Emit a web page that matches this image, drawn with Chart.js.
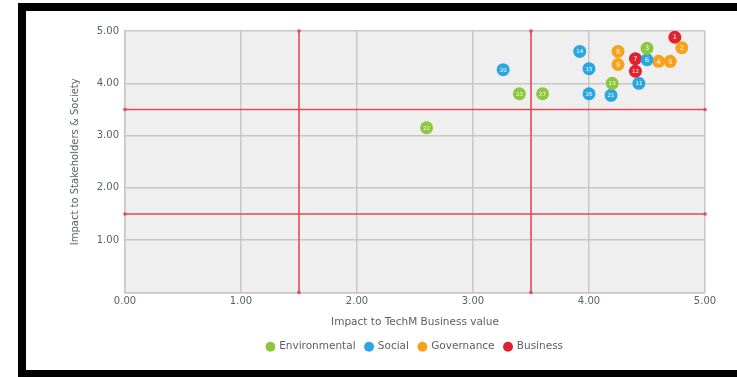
<!DOCTYPE html>
<html>
<head>
<meta charset="utf-8">
<script src="https://cdn.jsdelivr.net/npm/chart.js@4/dist/chart.umd.min.js"></script>
<style>
  html, body { margin: 0; padding: 0; background: #fff; width: 737px; height: 377px; overflow: hidden; }
  #frame { position: absolute; left: 18px; top: 3px; width: 800px; height: 375px; box-sizing: border-box; border: 8px solid #000; }
  #wrap { position: absolute; left: 0; top: 0; width: 737px; height: 377px; }
</style>
</head>
<body>
<div id="frame"></div>
<div id="wrap"><canvas id="c"></canvas></div>
<script>
// Materiality matrix: impact to business value (x) vs impact to stakeholders (y)
const seriesNames = ['Environmental', 'Social', 'Governance', 'Business'];
const seriesColors = ['#8dc63f', '#2aa7e1', '#f8a21c', '#e3202d'];

const envX = [2.60, 3.40, 3.60, 4.20, 4.50];
const envY = [3.15, 3.80, 3.80, 4.00, 4.67];
const envIds = ['22', '23', '27', '13', '3'];

const socX = [3.26, 3.92, 4.00, 4.00, 4.19, 4.43, 4.50];
const socY = [4.26, 4.61, 4.28, 3.80, 3.77, 4.00, 4.45];
const socIds = ['20', '14', '15', '26', '21', '11', '6'];

const govX = [4.25, 4.25, 4.60, 4.70, 4.80];
const govY = [4.61, 4.36, 4.42, 4.42, 4.68];
const govIds = ['8', '9', '4', '5', '2'];

const busX = [4.74, 4.40, 4.40];
const busY = [4.88, 4.47, 4.23];
const busIds = ['1', '7', '12'];

// threshold lines
const thresholdX = [1.5, 3.5];
const thresholdY = [1.5, 3.5];

const xTicks = [0, 1, 2, 3, 4, 5];
const xTickLabels = ['0.00', '1.00', '2.00', '3.00', '4.00', '5.00'];
const yTicks = [0, 1, 2, 3, 4, 5];
const yTickLabels = ['', '1.00', '2.00', '3.00', '4.00', '5.00'];

const xTitle = 'Impact to TechM Business value';
const yTitle = 'Impact to Stakeholders & Society';

const textColor = '#59616e';
const fontFamily = "'DejaVu Sans', sans-serif";

function pts(xs, ys) { return xs.map((x, i) => ({ x: x, y: ys[i] })); }

const groups = [
  { xs: envX, ys: envY, ids: envIds },
  { xs: socX, ys: socY, ids: socIds },
  { xs: govX, ys: govY, ids: govIds },
  { xs: busX, ys: busY, ids: busIds }
];

const datasets = groups.map((g, i) => ({
  type: 'scatter',
  label: seriesNames[i],
  data: pts(g.xs, g.ys),
  ids: g.ids,
  backgroundColor: seriesColors[i],
  borderColor: seriesColors[i],
  borderWidth: 0,
  pointRadius: 6.5,
  pointHoverRadius: 6.5,
  order: 1
}));

const lineStyle = {
  type: 'line',
  borderColor: '#e2495a',
  backgroundColor: '#e2495a',
  borderWidth: 1.6,
  pointRadius: 1.8,
  pointBorderWidth: 0,
  fill: false,
  clip: false,
  order: 5
};
thresholdX.forEach(v => datasets.push(Object.assign({}, lineStyle, { label: 'x' + v, data: [{ x: v, y: 0 }, { x: v, y: 5 }] })));
thresholdY.forEach(v => datasets.push(Object.assign({}, lineStyle, { label: 'y' + v, data: [{ x: 0, y: v }, { x: 5, y: v }] })));

const plotBackground = {
  id: 'plotBackground',
  beforeDraw(chart) {
    const a = chart.chartArea, ctx = chart.ctx;
    ctx.save();
    ctx.fillStyle = '#efefef';
    ctx.fillRect(a.left, a.top, a.right - a.left, a.bottom - a.top);
    ctx.restore();
  }
};

// centre the legend under the plot area rather than the whole canvas
const legendUnderPlot = {
  id: 'legendUnderPlot',
  afterLayout(chart) {
    const lg = chart.legend, a = chart.chartArea;
    if (!lg) return;
    lg.left = a.left;
    lg.right = a.right;
    lg.width = a.right - a.left;
  }
};

const pointIds = {
  id: 'pointIds',
  afterDatasetsDraw(chart) {
    const ctx = chart.ctx;
    ctx.save();
    ctx.fillStyle = '#ffffff';
    ctx.textAlign = 'center';
    ctx.textBaseline = 'middle';
    chart.data.datasets.forEach((ds, di) => {
      if (!ds.ids) return;
      const meta = chart.getDatasetMeta(di);
      meta.data.forEach((el, i) => {
        const id = ds.ids[i];
        ctx.font = (id.length > 1 ? '5.5px ' : '6.5px ') + fontFamily;
        ctx.fillText(id, el.x, el.y + 0.5);
      });
    });
    ctx.restore();
  }
};

new Chart(document.getElementById('c'), {
  data: { datasets: datasets },
  options: {
    responsive: true,
    maintainAspectRatio: false,
    animation: false,
    layout: { padding: { left: 62, right: 32, top: 31, bottom: 15 } },
    plugins: {
      tooltip: { enabled: false },
      legend: {
        position: 'bottom',
        labels: {
          filter: item => item.datasetIndex < 4,
          usePointStyle: true,
          pointStyle: 'circle',
          boxWidth: 7,
          boxHeight: 7,
          padding: 10,
          color: textColor,
          font: { family: fontFamily, size: 10.5 }
        }
      }
    },
    scales: {
      x: {
        type: 'linear',
        min: 0, max: 5,
        afterBuildTicks: s => { s.ticks = xTicks.map(v => ({ value: v })); },
        afterFit: s => { s.height = 39; },
        ticks: {
          callback: (v, i) => xTickLabels[i],
          color: textColor,
          font: { family: fontFamily, size: 10 },
          padding: 3,
          maxRotation: 0
        },
        grid: { color: '#c8c8c8', lineWidth: 1.5, drawTicks: false },
        border: { color: '#c8c8c8', width: 1.5 },
        title: { display: true, text: xTitle, color: textColor, font: { family: fontFamily, size: 10.5 }, padding: { top: 0, bottom: 3 } }
      },
      y: {
        type: 'linear',
        min: 0, max: 5,
        afterBuildTicks: s => { s.ticks = yTicks.map(v => ({ value: v })); },
        afterFit: s => { s.width = 63; },
        ticks: {
          callback: (v, i) => yTickLabels[i],
          color: textColor,
          font: { family: fontFamily, size: 10 },
          padding: 6
        },
        grid: { color: '#c8c8c8', lineWidth: 1.5, drawTicks: false },
        border: { color: '#c8c8c8', width: 1.5 },
        title: { display: true, text: yTitle, color: textColor, font: { family: fontFamily, size: 10 }, padding: { top: 7, bottom: 0 } }
      }
    }
  },
  plugins: [plotBackground, legendUnderPlot, pointIds]
});
</script>
</body>
</html>
